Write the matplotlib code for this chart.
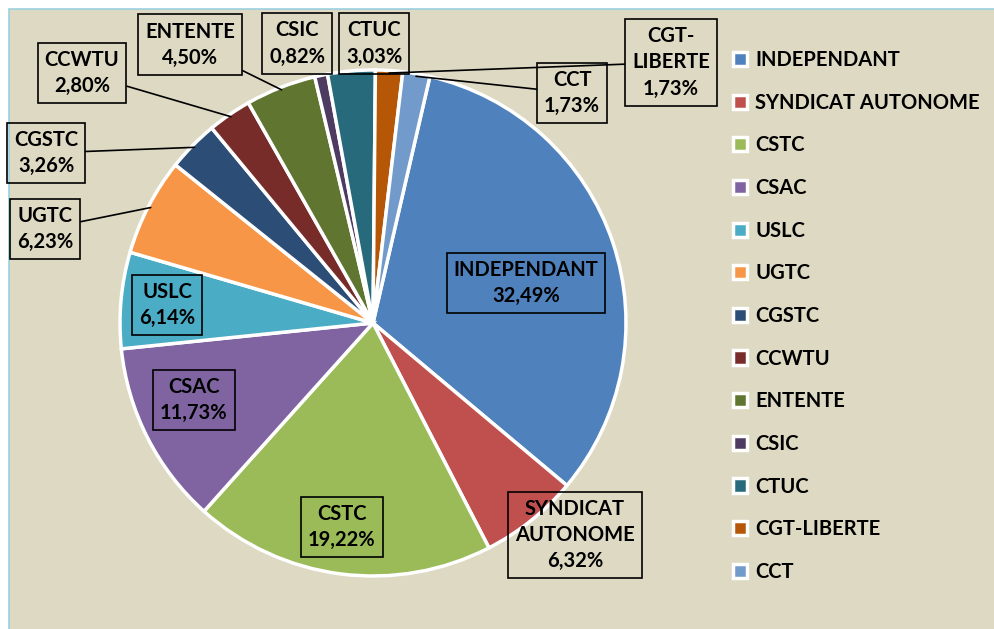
import matplotlib
matplotlib.use('Agg')
import matplotlib.pyplot as plt
from matplotlib.patches import Rectangle
import numpy as np

#--------------------------------------------------------------------
# Data
labels = ['INDEPENDANT', 'SYNDICAT AUTONOME', 'CSTC', 'CSAC', 'USLC', 'UGTC',
          'CGSTC', 'CCWTU', 'ENTENTE', 'CSIC', 'CTUC', 'CGT-LIBERTE', 'CCT']
values = [32.49, 6.32, 19.22, 11.73, 6.14, 6.23, 3.26, 2.80, 4.50, 0.82, 3.03, 1.73, 1.73]
# text shown in the boxes (line breaks as in the chart)
box_names = ['INDEPENDANT', 'SYNDICAT\nAUTONOME', 'CSTC', 'CSAC', 'USLC', 'UGTC',
             'CGSTC', 'CCWTU', 'ENTENTE', 'CSIC', 'CTUC', 'CGT-\nLIBERTE', 'CCT']

colors = ['#4F81BD', '#C0504D', '#9BBB59', '#8064A2', '#4BACC6', '#F79646',
          '#2C4D75', '#772C2A', '#5F7530', '#4D3B62', '#276A7C', '#B65708', '#729ACA']

# label box centres (pie data coords, radius = 1) and whether a leader line is drawn
lbl_pos = [(0.605, 0.158), (0.798, -0.838), (-0.123, -0.806), (-0.708, -0.304),
           (-0.814, 0.071), (-1.296, 0.372), (-1.292, 0.672), (-1.150, 0.988),
           (-0.723, 1.100), (-0.300, 1.105), (0.004, 1.105), (1.178, 1.030),
           (0.787, 0.909)]
leader = [False, False, False, False, False, True, True, True, True, False, False, True, True]

bg = '#DDD9C3'
W, H = 995, 629
#--------------------------------------------------------------------

fig = plt.figure(figsize=(W / 100, H / 100), dpi=100, facecolor='white')
fig.patches.append(Rectangle((9 / W, -0.1), 1.2, 1.1 - 9 / H, transform=fig.transFigure,
                             facecolor=bg, edgecolor='#9CCFDF', linewidth=1.2, zorder=-5))

cx, cy, r = 373, 323, 253
ax = fig.add_axes([(cx - r) / W, (H - cy - r) / H, 2 * r / W, 2 * r / H])
ax.set_facecolor('none')

plt.rcParams['font.family'] = ['Lato', 'DejaVu Sans']
fs = 14.5

wedges, _ = ax.pie(values, colors=colors, startangle=77, counterclock=False, radius=1,
                   wedgeprops=dict(edgecolor='white', linewidth=2.5))
ax.set_xlim(-1, 1)
ax.set_ylim(-1, 1)
ax.set_aspect('equal')
ax.axis('off')

for i, w in enumerate(wedges):
    txt = '{}\n{:.2f}%'.format(box_names[i], values[i]).replace('.', ',')
    bbox = dict(boxstyle='square,pad=0.35', facecolor='none', edgecolor='black', linewidth=1.2)
    if leader[i]:
        ang = np.deg2rad((w.theta1 + w.theta2) / 2)
        xy = (0.99 * np.cos(ang), 0.99 * np.sin(ang))
        ax.annotate(txt, xy=xy, xytext=lbl_pos[i], ha='center', va='center',
                    fontsize=fs, fontweight='bold', bbox=bbox, annotation_clip=False,
                    linespacing=1.4,
                    arrowprops=dict(arrowstyle='-', color='black', lw=1.2,
                                    shrinkA=0, shrinkB=0))
    else:
        ax.text(lbl_pos[i][0], lbl_pos[i][1], txt, ha='center', va='center',
                fontsize=fs, fontweight='bold', bbox=bbox, linespacing=1.4, clip_on=False)

leg = fig.legend(wedges, labels, loc='upper left', bbox_to_anchor=(733 / W, 1 - 50 / H),
                 frameon=False, prop=dict(size=fs, weight='bold'),
                 handlelength=0.7, handleheight=0.7, handletextpad=0.4,
                 labelspacing=1.125, borderpad=0, borderaxespad=0)

fig.savefig('out.png', dpi=100, facecolor='white')
